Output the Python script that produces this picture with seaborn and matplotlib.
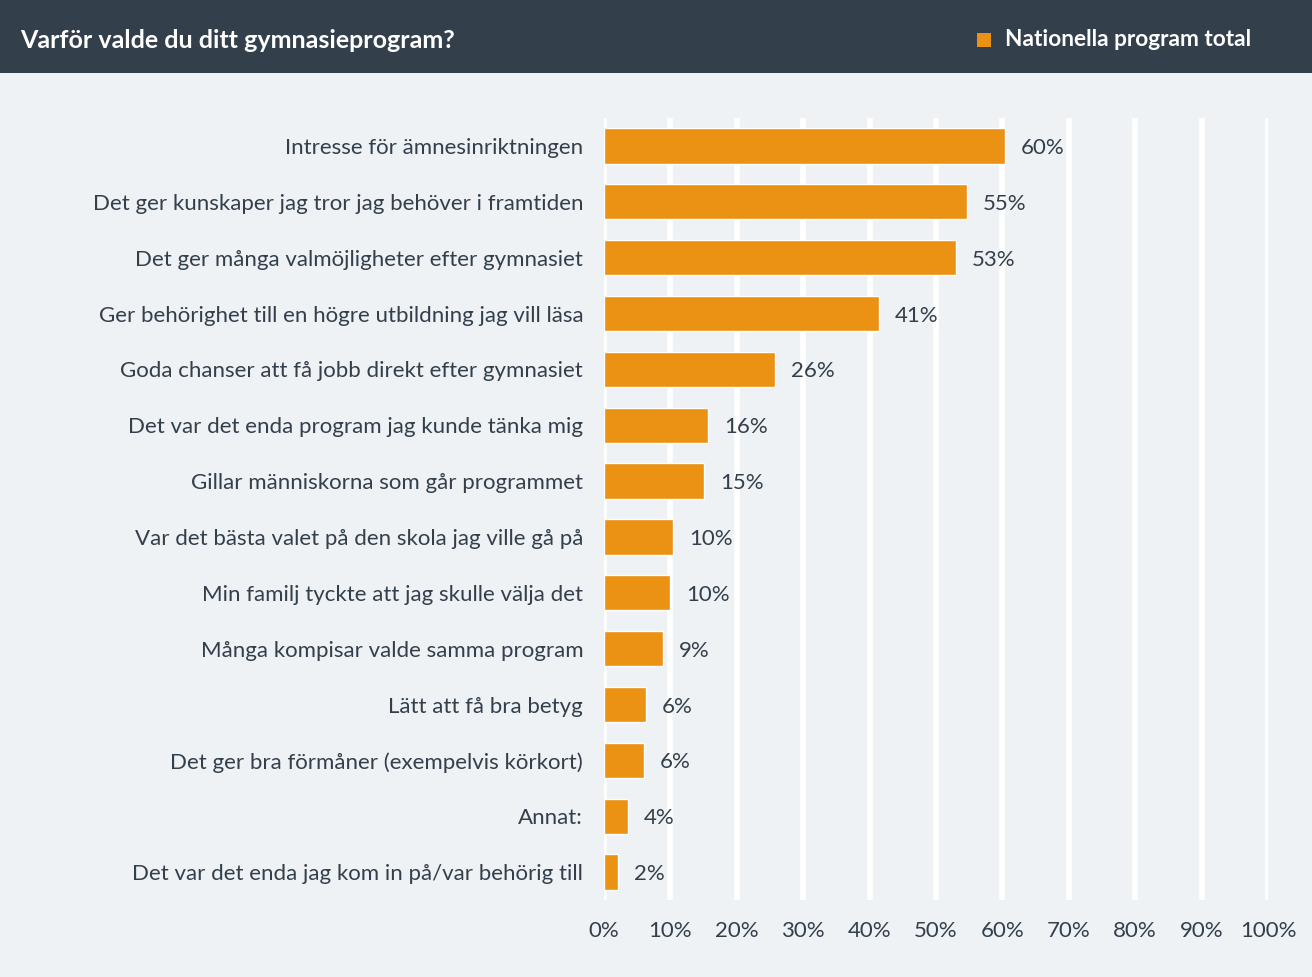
import matplotlib
matplotlib.use("Agg")
import matplotlib.pyplot as plt
import seaborn as sns
import pandas as pd
from matplotlib.patches import Rectangle

categories = [
    "Intresse för ämnesinriktningen",
    "Det ger kunskaper jag tror jag behöver i framtiden",
    "Det ger många valmöjligheter efter gymnasiet",
    "Ger behörighet till en högre utbildning jag vill läsa",
    "Goda chanser att få jobb direkt efter gymnasiet",
    "Det var det enda program jag kunde tänka mig",
    "Gillar människorna som går programmet",
    "Var det bästa valet på den skola jag ville gå på",
    "Min familj tyckte att jag skulle välja det",
    "Många kompisar valde samma program",
    "Lätt att få bra betyg",
    "Det ger bra förmåner (exempelvis körkort)",
    "Annat:",
    "Det var det enda jag kom in på/var behörig till",
]
values = [60.4, 54.7, 53.0, 41.4, 25.8, 15.7, 15.1, 10.4, 9.9, 8.9, 6.3, 6.0, 3.6, 2.1]
value_labels = ["60%", "55%", "53%", "41%", "26%", "16%", "15%", "10%", "10%", "9%", "6%", "6%", "4%", "2%"]
x_ticks = [0, 10, 20, 30, 40, 50, 60, 70, 80, 90, 100]
x_tick_labels = [f"{t}%" for t in x_ticks]
title = "Varför valde du ditt gymnasieprogram?"
series_name = "Nationella program total"

BG = "#EEF2F5"
HEADER = "#333F4B"
BAR = "#EB9114"
TEXT = "#333F4B"

sns.set_theme(style="white")
plt.rcParams["font.family"] = ["Lato", "DejaVu Sans"]

df = pd.DataFrame({"cat": categories, "val": values})

fig = plt.figure(figsize=(13.12, 9.77), dpi=100, facecolor=BG)
ax = fig.add_axes([604 / 1312, 1 - 900 / 977, 664 / 1312, 782 / 977])
ax.set_facecolor(BG)

sns.barplot(data=df, x="val", y="cat", color=BAR, saturation=1, width=0.63, ax=ax, zorder=3)

ax.set_xlim(0, 100)
ax.set_ylim(len(categories) - 0.5, -0.5)
ax.set_xticks(x_ticks)
ax.set_xticklabels(x_tick_labels)
for t in x_ticks:
    ax.axvline(t, color="white", lw=4, zorder=1)
for s in ax.spines.values():
    s.set_visible(False)
ax.set_xlabel("")
ax.set_ylabel("")
ax.tick_params(axis="y", length=0, pad=15, labelsize=16, labelcolor=TEXT)
ax.tick_params(axis="x", length=0, pad=15, labelsize=16, labelcolor=TEXT)

for i, (v, lab) in enumerate(zip(values, value_labels)):
    ax.annotate(lab, xy=(v, i), xytext=(16, 0), textcoords="offset pixels",
                va="center_baseline", ha="left", fontsize=16, color=TEXT)

# header band
fig.patches.append(Rectangle((0, 1 - 73 / 977), 1, 73 / 977, transform=fig.transFigure,
                             facecolor=HEADER, edgecolor="none", zorder=0))
fig.text(20 / 1312, 1 - 40 / 977, title, color="white", fontsize=18, fontweight="bold",
         va="center", ha="left")
fig.patches.append(Rectangle((977 / 1312, 1 - 47 / 977), 14 / 1312, 14 / 977, transform=fig.transFigure,
                             facecolor=BAR, edgecolor="none", zorder=1))
fig.text(1005 / 1312, 1 - 40 / 977, series_name, color="white", fontsize=16.3, fontweight="bold",
         va="center", ha="left")

fig.savefig("out.png", dpi=100, facecolor=BG)
